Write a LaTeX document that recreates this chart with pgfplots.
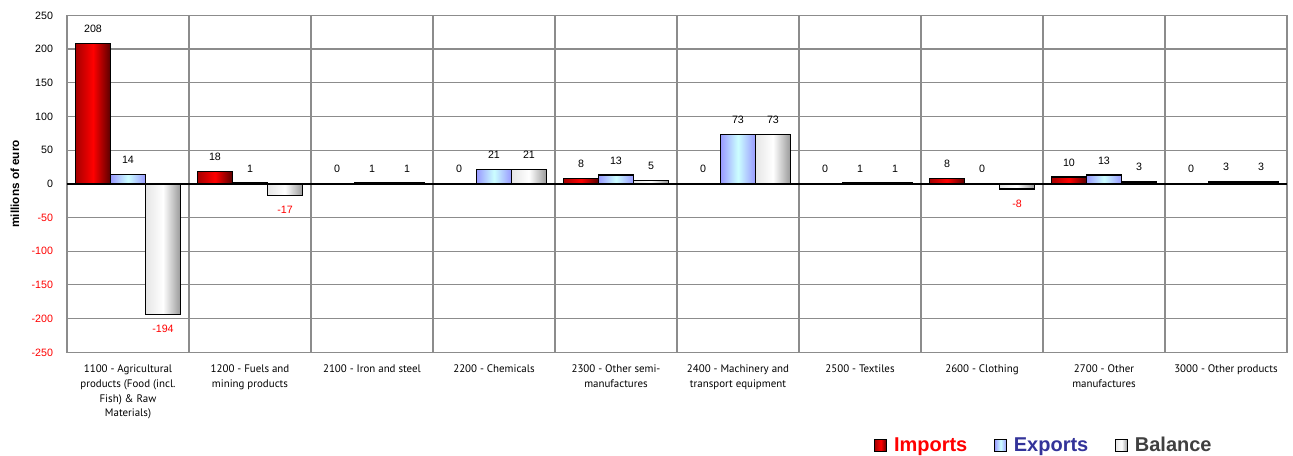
\documentclass[border=0pt]{standalone}
\usepackage{pgfplots}
\usepackage{pgfplotstable}
\pgfplotsset{compat=1.18}
\usepackage{fontspec}
\setmainfont{Liberation Sans}
\newfontfamily\catfont{PT Sans}
\definecolor{gridgray}{HTML}{8C8C8C}
\definecolor{expblue}{HTML}{333399}
\definecolor{balgray}{HTML}{404040}
\definecolor{bluedark}{HTML}{9999FF}
\definecolor{bluelight}{HTML}{CCFFFF}
\pgfplotsset{/pgf/number format/assume math mode=true}

% millions of euro
\pgfplotstableread{
x imp exp bal
0 208 14 -194
1 18  1  -17
2 0   1  1
3 0   21 21
4 8   13 5
5 0   73 73
6 0   1  1
7 8   0  -8
8 10  13 3
9 0   3  3
}\tradedata

% middle color must come after left/right color, which reset it
\pgfplotsset{
  imp/.style={draw=black, line width=1.1pt, left color=red!65!black, right color=red!35!black, middle color=red},
  exp/.style={draw=black, line width=1.1pt, left color=bluedark, right color=bluedark, middle color=bluelight},
  bal/.style={draw=black, line width=1.1pt, left color=gray!20, right color=gray!80, middle color=white},
}

\begin{document}
\begin{tikzpicture}
\path[use as bounding box] (-50.25pt,-77.25pt) rectangle (919.5pt,264.25pt);
\begin{axis}[
    scale only axis,
    width=915pt, height=252.75pt,
    ybar=0pt, bar width=26.25pt,
    xmin=-0.5, xmax=9.5, ymin=-250, ymax=250,
    ytick={-250,-200,...,250},
    xtick={0,...,9},
    xticklabels={
      {1100 - Agricultural\\products (Food (incl.\\Fish) \& Raw\\Materials)},
      {1200 - Fuels and\\mining products},
      {2100 - Iron and steel},
      {2200 - Chemicals},
      {2300 - Other semi-\\manufactures},
      {2400 - Machinery and\\transport equipment},
      {2500 - Textiles},
      {2600 - Clothing},
      {2700 - Other\\manufactures},
      {3000 - Other products}},
    xticklabel style={align=center, font=\catfont\fontsize{8.2}{11.2}\selectfont, yshift=-5.5pt},
    yticklabel={\pgfmathparse{\tick}\ifdim\pgfmathresult pt<0pt\color{red}\fi\pgfmathprintnumber{\tick}},
    yticklabel style={font=\fontsize{8}{9}\selectfont, xshift=-7pt},
    minor xtick={-0.5,0.5,...,9.5},
    xminorgrids, ymajorgrids,
    major tick length=0pt, minor tick length=0pt,
    grid style={gridgray, line width=0.8pt},
    minor grid style={gridgray, line width=0.8pt},
    axis line style={gridgray, line width=0.8pt},
    extra y ticks={0}, extra y tick labels={},
    extra y tick style={grid style={black, line width=1.5pt}},
    ylabel={millions of euro},
    ylabel style={at={(axis description cs:-0.0426,0.5)}, anchor=center, font=\bfseries\fontsize{8.8}{10}\selectfont},
    nodes near coords={\pgfmathfloatifflags{\pgfplotspointmeta}{-}{\color{red}}{}\pgfmathprintnumber{\pgfplotspointmeta}},
    nodes near coords style={font=\fontsize{8}{9}\selectfont, inner ysep=7.5pt, black},
    legend image code/.code={\draw[#1, line width=0.9pt] (0pt,-4.5pt) rectangle (9pt,4.5pt);},
    legend style={draw=none, fill=none, legend columns=3, at={(0.801,-0.276)}, anchor=center,
      font=\bfseries\fontsize{15}{17}\selectfont,
      /tikz/every odd column/.append style={column sep=3pt},
      /tikz/every even column/.append style={column sep=18pt}},
    legend cell align=left,
]
\addlegendimage{imp}\addlegendentry{\textcolor{red}{Imports}}
\addlegendimage{exp}\addlegendentry{\textcolor{expblue}{Exports}}
\addlegendimage{bal}\addlegendentry{\textcolor{balgray}{Balance}}
% one plot per bar so that every bar gets its own shading
\pgfplotsinvokeforeach{0,...,9}{
  \pgfplotstablegetelem{#1}{imp}\of\tradedata
  \edef\tmp{\noexpand\addplot[imp, bar shift=-26.25pt, forget plot] coordinates {(#1,\pgfplotsretval)};}\tmp
  \pgfplotstablegetelem{#1}{exp}\of\tradedata
  \edef\tmp{\noexpand\addplot[exp, bar shift=0pt, forget plot] coordinates {(#1,\pgfplotsretval)};}\tmp
  \pgfplotstablegetelem{#1}{bal}\of\tradedata
  \edef\tmp{\noexpand\addplot[bal, bar shift=26.25pt, forget plot] coordinates {(#1,\pgfplotsretval)};}\tmp
}
\end{axis}
\end{tikzpicture}
\end{document}
